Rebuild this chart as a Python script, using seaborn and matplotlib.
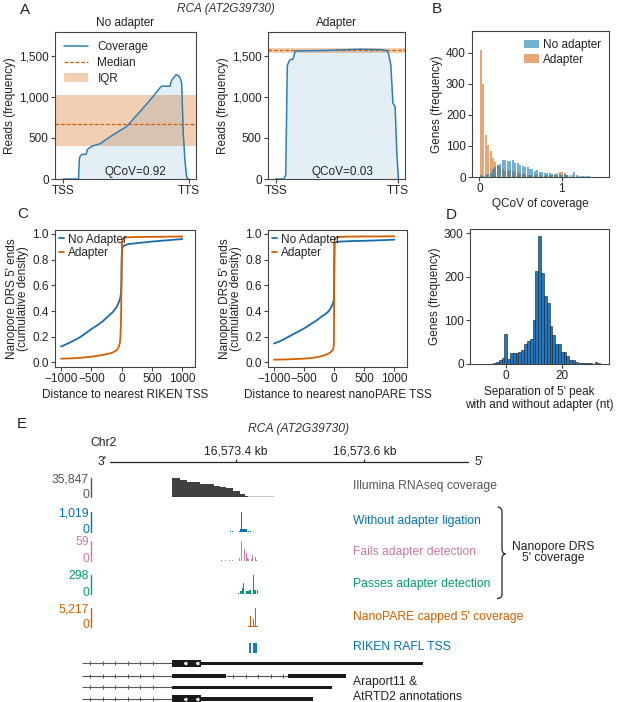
import numpy as np
import pandas as pd
import matplotlib
matplotlib.use("Agg")
import matplotlib.pyplot as plt
import matplotlib.transforms as mtransforms
from matplotlib.path import Path
from matplotlib.patches import PathPatch, Patch
from matplotlib.lines import Line2D
from matplotlib.ticker import FuncFormatter
import seaborn as sns

# ----------------------------------------------------------------- data
# A: read coverage along the gene (TSS = 0, TTS = 1000)
gene_ticks = [0, 1000]
gene_tick_labels = ["TSS", "TTS"]
reads_ticks = [0, 500, 1000, 1500]

cov_noadapt_x = [0, 122, 129, 135, 148, 183, 193, 228, 294, 399, 505, 611, 690, 770, 783, 849, 862, 897, 915, 930, 942, 955, 968, 981, 990, 1000]
cov_noadapt_y = [0, 0, 250, 275, 300, 300, 360, 400, 430, 540, 640, 820, 960, 1110, 1130, 1130, 1200, 1270, 1260, 1230, 1170, 550, 230, 30, 0, 0]
noadapt_median = 667
noadapt_iqr = (404, 1019)
noadapt_qcov = "QCoV=0.92"

cov_adapt_x = [0, 66, 80, 93, 113, 140, 157, 190, 400, 686, 850, 907, 920, 940, 957, 975, 988, 1002]
cov_adapt_y = [0, 0, 50, 1383, 1451, 1460, 1557, 1560, 1565, 1580, 1575, 1565, 1532, 1390, 925, 880, 350, 0]
adapt_median = 1565
adapt_iqr = (1540, 1594)
adapt_qcov = "QCoV=0.03"

# B: histogram of QCoV (bins of 0.03 starting at 0)
qcov_bin_width = 0.03
genes_no_adapter = [8, 4, 6, 10, 14, 25, 32, 38, 42, 55, 55, 52, 50, 55, 46, 44, 40, 36, 31, 33, 26, 25, 20, 22,
                    17, 16, 14, 14, 12, 10, 10, 8, 9, 8, 10, 7, 6, 5, 15, 5, 3, 3, 2, 2, 2]
genes_adapter = [408, 300, 134, 102, 83, 62, 48, 40, 33, 25, 20, 20, 21, 20, 17, 15, 12, 10, 9, 8, 7, 6, 5, 6,
                 5, 4, 4, 5, 6, 5, 8, 12, 15, 16, 12, 6, 3]
b_yticks = [0, 100, 200, 300, 400]

# C: cumulative density of 5' end distance to nearest TSS
c_dist = [-1000, -900, -800, -700, -600, -500, -400, -300, -200, -150, -100, -75, -50, -30, -20, -10, -5, 0,
          5, 10, 20, 30, 50, 75, 100, 200, 300, 500, 750, 1000]
riken_no_adapter = [0.124, 0.145, 0.168, 0.193, 0.225, 0.26, 0.29, 0.325, 0.37, 0.39, 0.42, 0.44, 0.465, 0.49,
                    0.51, 0.55, 0.6, 0.75, 0.87, 0.89, 0.90, 0.905, 0.91, 0.915, 0.92, 0.925, 0.93, 0.94, 0.95, 0.96]
riken_adapter = [0.03, 0.031, 0.033, 0.036, 0.04, 0.045, 0.052, 0.06, 0.07, 0.078, 0.09, 0.10, 0.12, 0.15, 0.2,
                 0.35, 0.55, 0.8, 0.9, 0.94, 0.96, 0.965, 0.97, 0.972, 0.973, 0.975, 0.976, 0.977, 0.978, 0.98]
nanopare_no_adapter = [0.148, 0.165, 0.19, 0.215, 0.24, 0.265, 0.295, 0.325, 0.36, 0.375, 0.395, 0.41, 0.43, 0.45,
                       0.46, 0.48, 0.5, 0.7, 0.928, 0.93, 0.932, 0.934, 0.936, 0.938, 0.94, 0.942, 0.944, 0.946, 0.95, 0.955]
nanopare_adapter = [0.022, 0.023, 0.024, 0.026, 0.028, 0.03, 0.034, 0.04, 0.05, 0.058, 0.068, 0.075, 0.085, 0.093,
                    0.1, 0.12, 0.15, 0.6, 0.95, 0.965, 0.97, 0.972, 0.975, 0.976, 0.977, 0.978, 0.979, 0.98, 0.98, 0.981]
c_xticks = [-1000, -500, 0, 500, 1000]
c_yticks = [0.0, 0.2, 0.4, 0.6, 0.8, 1.0]

# D: separation of 5' peak (nt)
sep_nt = list(range(-9, 35))
sep_genes = [1, 0, 1, 1, 1, 2, 5, 10, 13, 70, 12, 25, 25, 26, 28, 33, 45, 53, 57, 101, 213, 293, 210, 157,
             139, 88, 67, 46, 45, 27, 27, 19, 10, 9, 5, 3, 3, 3, 2, 3, 1, 4, 2, 1]
d_xticks = [0, 20]
d_yticks = [0, 100, 200, 300]

# E: genome browser (positions in bp relative to Chr2:16,573,000)
ruler_span = [204, 761]
ruler_ticks = [400, 600]
ruler_labels = ["16,573.4 kb", "16,573.6 kb"]

illumina_pos = [300, 313, 323, 344, 365, 375, 385, 396, 406, 414, 419]
illumina_cov = [35847, 31500, 28300, 23300, 20100, 17600, 15800, 11500, 5000, 2000, 900]
illumina_tail_pos = [419, 459]
illumina_tail_cov = [500, 500]

noadapt_pos = [391, 394, 397, 400, 403, 406, 407, 408, 409, 410, 411, 412, 413, 414, 415, 416, 417, 420, 422]
noadapt_cnt = [15, 15, 15, 15, 15, 15, 140, 1019, 150, 145, 140, 135, 130, 140, 135, 120, 70, 15, 15]

fails_pos = [315, 325, 335, 345, 355, 365, 372, 378, 384, 390, 395, 400, 403, 406, 409, 411, 413, 414, 416,
             418, 420, 424, 426, 428, 430, 432, 440, 450, 460, 470, 480, 490, 500, 515]
fails_cnt = [1, 1, 1, 1, 1, 1, 2, 3, 2, 4, 3, 5, 6, 8, 59, 10, 35, 12, 24, 8, 6, 5, 18, 7, 12, 4, 1, 1, 1, 1, 1, 1, 1, 1]

passes_pos = [380, 385, 390, 395, 400, 404, 407, 409, 410, 412, 414, 416, 418, 419, 421, 423, 425, 427, 429, 431, 433]
passes_cnt = [5, 5, 5, 5, 5, 8, 45, 50, 90, 165, 48, 45, 42, 40, 60, 62, 65, 298, 64, 60, 55]

nanopare_pos = [420, 421, 422, 423, 424, 425, 426, 427, 428, 429, 430, 431, 432, 433,
                458, 465, 472, 480, 490, 500, 510, 520, 530, 539]
nanopare_cnt = [150, 300, 2870, 200, 250, 260, 300, 2100, 280, 300, 5217, 400, 350, 250,
                60, 60, 60, 60, 60, 60, 60, 60, 80, 60]

riken_tss = [422, 428, 431]

# transcripts: intron spans, exon blocks (tall = UTR-like boxes)
intron_tx = [0, 1, 1, 2, 3]
intron_start = [160, 160, 385, 160, 160]
intron_end = [300, 300, 481, 300, 300]
intron_marks = [[172, 192, 211, 231, 250, 270], [172, 192, 211, 231, 250, 270],
                [395, 415, 435, 454, 473], [172, 192, 211, 231, 250, 270], [172, 192, 211, 231, 250, 270]]
tall_tx = [0, 3]
tall_start = [300, 300]
tall_end = [345, 345]
tall_marks = [320, 339]
exon_tx = [0, 1, 1, 2, 3]
exon_start = [345, 300, 481, 300, 345]
exon_end = [692, 385, 571, 549, 520]

# ----------------------------------------------------------------- style
sns.set_style("ticks")
plt.rcParams["font.family"] = ["Liberation Sans", "DejaVu Sans"]
plt.rcParams.update({
    "font.size": 8.5,
    "axes.edgecolor": "#444444",
    "axes.linewidth": 0.8,
    "xtick.color": "#444444", "ytick.color": "#444444",
    "xtick.labelcolor": "#222222", "ytick.labelcolor": "#222222",
    "xtick.major.size": 3, "ytick.major.size": 3,
    "xtick.major.width": 0.8, "ytick.major.width": 0.8,
    "xtick.major.pad": 1.5, "ytick.major.pad": 1.5,
    "axes.labelcolor": "#222222", "text.color": "#222222",
    "axes.labelsize": 8.5, "xtick.labelsize": 8.5, "ytick.labelsize": 8.5,
    "legend.fontsize": 8.5, "axes.titlesize": 8.5,
})

blue = "#0072b2"
orange = "#d55e00"
cov_line = "#2c7fb8"
c_blue = "#1c6bab"
pink = "#cc79a7"
green = "#009e73"

W, H = 617, 702
fig = plt.figure(figsize=(W / 100, H / 100), dpi=100)


def box(x0, y0, x1, y1):
    return fig.add_axes([x0 / W, 1 - y1 / H, (x1 - x0) / W, (y1 - y0) / H])


def ftext(x, y, s, **kw):
    return fig.text(x / W, 1 - y / H, s, **kw)


comma = FuncFormatter(lambda v, p: f"{int(v):,}")

# ----------------------------------------------------------------- panel A
ftext(25, 10, "A", fontsize=11, ha="center", va="center")
ftext(226, 9, "RCA (AT2G39730)", style="italic", ha="center", va="center", color="#333333")
panelA = [
    (55, 196, cov_noadapt_x, cov_noadapt_y, noadapt_median, noadapt_iqr, "No adapter", noadapt_qcov, 0.57, True),
    (268, 405, cov_adapt_x, cov_adapt_y, adapt_median, adapt_iqr, "Adapter", adapt_qcov, 0.54, False),
]
for x0, x1, xs, ys, med, iqr, title, q, qx, leg in panelA:
    ax = box(x0, 32, x1, 179)
    ax.axhspan(iqr[0], iqr[1], color=orange, alpha=0.3, lw=0, zorder=1)
    ax.fill_between(xs, ys, color=cov_line, alpha=0.13, lw=0, zorder=1.5)
    sns.lineplot(x=xs, y=ys, ax=ax, color=cov_line, lw=1.1, sort=False, estimator=None, zorder=3)
    ax.axhline(med, color=orange, ls="--", lw=0.9, dashes=(3, 1.5), zorder=2)
    ax.set_xlim(-65, 1056)
    ax.set_ylim(0, 1790)
    ax.set_xticks(gene_ticks)
    ax.set_xticklabels(gene_tick_labels)
    ax.set_yticks(reads_ticks)
    ax.yaxis.set_major_formatter(comma)
    ax.set_ylabel("Reads (frequency)", labelpad=2)
    ax.set_xlabel("")
    ax.set_title(title, pad=4)
    ax.text(qx, 0.005, q, transform=ax.transAxes, ha="center", va="bottom")
    if leg:
        ax.legend(handles=[Line2D([], [], color=cov_line, lw=1.1),
                           Line2D([], [], color=orange, ls="--", lw=0.9, dashes=(3, 1.5)),
                           Patch(facecolor=orange, alpha=0.3, lw=0)],
                  labels=["Coverage", "Median", "IQR"], loc="upper left", frameon=False,
                  labelspacing=0.3, handletextpad=0.8, borderaxespad=0.4)

# ----------------------------------------------------------------- panel B
ftext(437, 9, "B", fontsize=11, ha="center", va="center")
axB = box(472, 31, 609, 177)
n_b = max(len(genes_no_adapter), len(genes_adapter))
b_edges = (np.arange(n_b + 1) * qcov_bin_width).tolist()
df_b = pd.DataFrame({
    "qcov": np.r_[(np.arange(len(genes_no_adapter)) + 0.5) * qcov_bin_width,
                  (np.arange(len(genes_adapter)) + 0.5) * qcov_bin_width],
    "genes": genes_no_adapter + genes_adapter,
    "sample": ["No adapter"] * len(genes_no_adapter) + ["Adapter"] * len(genes_adapter),
})
sns.histplot(data=df_b, x="qcov", weights="genes", hue="sample", hue_order=["No adapter", "Adapter"],
             bins=b_edges, multiple="layer", palette={"No adapter": blue, "Adapter": orange},
             alpha=0.55, shrink=0.8, linewidth=0, legend=False, ax=axB)
axB.set_xlim(-0.09, 1.575)
axB.set_ylim(0, 470)
axB.set_xticks([0, 1])
axB.set_yticks(b_yticks)
axB.set_xlabel("QCoV of coverage", labelpad=2)
axB.set_ylabel("Genes (frequency)", labelpad=2)
axB.legend(handles=[Patch(facecolor=blue, alpha=0.55, lw=0), Patch(facecolor=orange, alpha=0.55, lw=0)],
           labels=["No adapter", "Adapter"], loc="upper right", frameon=False, labelspacing=0.2,
           handlelength=1.25, handletextpad=0.3, borderaxespad=0.3)

# ----------------------------------------------------------------- panel C
ftext(23, 214, "C", fontsize=11, ha="center", va="center")
panelC = [
    (55, 195, riken_no_adapter, riken_adapter, "Distance to nearest RIKEN TSS"),
    (268, 407, nanopare_no_adapter, nanopare_adapter, "Distance to nearest nanoPARE TSS"),
]
for x0, x1, yb, yo, xl in panelC:
    ax = box(x0, 230, x1, 367)
    sns.lineplot(x=c_dist, y=yb, ax=ax, color=c_blue, lw=1.3, estimator=None)
    sns.lineplot(x=c_dist, y=yo, ax=ax, color=orange, lw=1.3, estimator=None)
    ax.set_xlim(-1100, 1210)
    ax.set_ylim(-0.035, 1.03)
    ax.set_xticks(c_xticks)
    ax.set_yticks(c_yticks)
    ax.yaxis.set_major_formatter(FuncFormatter(lambda v, p: f"{v:.1f}"))
    ax.set_xlabel(xl, labelpad=3)
    ax.set_ylabel("Nanopore DRS 5' ends\n(cumulative density)", labelpad=2, linespacing=0.95)
    ax.legend(handles=[Line2D([], [], color=c_blue, lw=1.3), Line2D([], [], color=orange, lw=1.3)],
              labels=["No Adapter", "Adapter"], loc="upper left", frameon=False, handlelength=0.5,
              handletextpad=0.3, labelspacing=0.1, borderaxespad=0.1, borderpad=0.2)

# ----------------------------------------------------------------- panel D
ftext(451, 215, "D", fontsize=11, ha="center", va="center")
axD = box(470, 229, 609, 364)
sns.histplot(x=sep_nt, weights=sep_genes, discrete=True, color="#1f78c1", alpha=1,
             edgecolor="#1a1a1a", linewidth=0.4, ax=axD)
axD.set_xlim(-12.7, 36.6)
axD.set_ylim(0, 310)
axD.set_xticks(d_xticks)
axD.set_yticks(d_yticks)
axD.set_xlabel("Separation of 5' peak\nwith and without adapter (nt)", labelpad=3, linespacing=1.05)
axD.set_ylabel("Genes (frequency)", labelpad=2)

# ----------------------------------------------------------------- panel E
ftext(22, 424, "E", fontsize=11, ha="center", va="center")
ftext(298, 429, "RCA (AT2G39730)", style="italic", ha="center", va="center", color="#333333", fontsize=8.7)
XL = (400 - 236 / 0.6417, 400 + 381 / 0.6417)
axE = box(0, 415, 617, 702)
axE.set_xlim(XL)
axE.set_ylim(702, 415)
axE.axis("off")

# ruler
axE.plot(ruler_span, [462, 462], color="#222222", lw=0.9)
axE.vlines(ruler_ticks, 459, 462, color="#222222", lw=0.9)
for t, lab in zip(ruler_ticks, ruler_labels):
    axE.text(t, 451, lab, ha="center", va="center", fontsize=8.7)
axE.annotate("3'", xy=(ruler_span[0], 462), xytext=(-3, 0), textcoords="offset points",
             ha="right", va="center", fontsize=8.7)
axE.annotate("5'", xy=(ruler_span[1], 462), xytext=(5, 0), textcoords="offset points",
             ha="left", va="center", fontsize=8.7)
ftext(104, 443, "Chr2", ha="center", va="center", fontsize=8.7)

fs_e = 8.7
scale_bar_x = XL[0] + 91 / 0.6417
tracks = [
    # top, bottom, max label, color, label, label y
    (477.7, 496.7, "35,847", "#555555", "Illumina RNAseq coverage", 486),
    (511.7, 531.5, "1,019", blue, "Without adapter ligation", 520.7),
    (540.5, 561.0, "59", pink, "Fails adapter detection", 551.7),
    (574.5, 594.0, "298", green, "Passes adapter detection", 584.3),
    (607.5, 627.0, "5,217", orange, "NanoPARE capped 5' coverage", 617.3),
]
track_data = [
    (illumina_pos, illumina_cov, 35847),
    (noadapt_pos, noadapt_cnt, 1019),
    (fails_pos, fails_cnt, 59),
    (passes_pos, passes_cnt, 298),
    (nanopare_pos, nanopare_cnt, 5217),
]
for i, ((top, bot, mlab, col, lab, ly), (pos, cnt, ymax)) in enumerate(zip(tracks, track_data)):
    axt = box(0, top, 617, bot)
    axt.set_xlim(XL)
    axt.set_ylim(0, ymax)
    axt.axis("off")
    if i == 0:
        axt.fill_between(pos, cnt, step="post", color="#404040", lw=0)
        axt.fill_between(illumina_tail_pos, illumina_tail_cov, step="post", color="#c8c8c8", lw=0)
    else:
        axt.bar(pos, cnt, width=1.3, color=col, lw=0)
    axE.plot([scale_bar_x, scale_bar_x], [top, bot], color=col, lw=1.0)
    ftext(89, top + 1.5, mlab, ha="right", va="center", color=col, fontsize=fs_e)
    ftext(89, bot - 1.5, "0", ha="right", va="center", color=col, fontsize=fs_e)
    ftext(353, ly, lab, ha="left", va="center", color=col, fontsize=fs_e)

# RIKEN TSS
axE.vlines(riken_tss, 642.7, 653.3, color=blue, lw=1.3)
ftext(353, 647.3, "RIKEN RAFL TSS", ha="left", va="center", color=blue, fontsize=fs_e)

# gene models
row_y = [663.3, 676.0, 687.3, 698.7]
for t, s, e, marks in zip(intron_tx, intron_start, intron_end, intron_marks):
    axE.hlines(row_y[t], s, e, color="#555555", lw=0.8)
    axE.plot(marks, [row_y[t]] * len(marks), ls="none", marker="|", ms=2.5, mew=0.7, color="#555555")
for t, s, e in zip(exon_tx, exon_start, exon_end):
    axE.broken_barh([(s, e - s)], (row_y[t] - 1.8, 3.6), color="#1a1a1a", lw=0)
for t, s, e in zip(tall_tx, tall_start, tall_end):
    axE.broken_barh([(s, e - s)], (row_y[t] - 3.3, 6.6), color="#1a1a1a", lw=0)
    axE.plot(tall_marks, [row_y[t]] * len(tall_marks), ls="none", marker="<", ms=1.8, color="white")
ftext(353, 682.3, "Araport11 &", ha="left", va="center", fontsize=fs_e)
ftext(353, 696.7, "AtRTD2 annotations", ha="left", va="center", fontsize=fs_e)

# brace for nanopore tracks
pix = mtransforms.Affine2D().scale(1 / W, -1 / H).translate(0, 1) + fig.transFigure
verts = [(497.5, 507), (502, 507.5), (502, 512), (502, 549), (502, 553.5), (505.5, 554),
         (502, 554.5), (502, 559), (502, 594), (502, 598.5), (497, 598.5)]
codes = [Path.MOVETO, Path.CURVE3, Path.CURVE3, Path.LINETO, Path.CURVE3, Path.CURVE3,
         Path.CURVE3, Path.CURVE3, Path.LINETO, Path.CURVE3, Path.CURVE3]
fig.add_artist(PathPatch(Path(verts, codes), transform=pix, fill=False, lw=0.9, edgecolor="#222222"))
ftext(553, 546.7, "Nanopore DRS", ha="center", va="center", fontsize=fs_e)
ftext(553, 558.5, "5' coverage", ha="center", va="center", fontsize=fs_e)

fig.savefig("out.png", dpi=100)
